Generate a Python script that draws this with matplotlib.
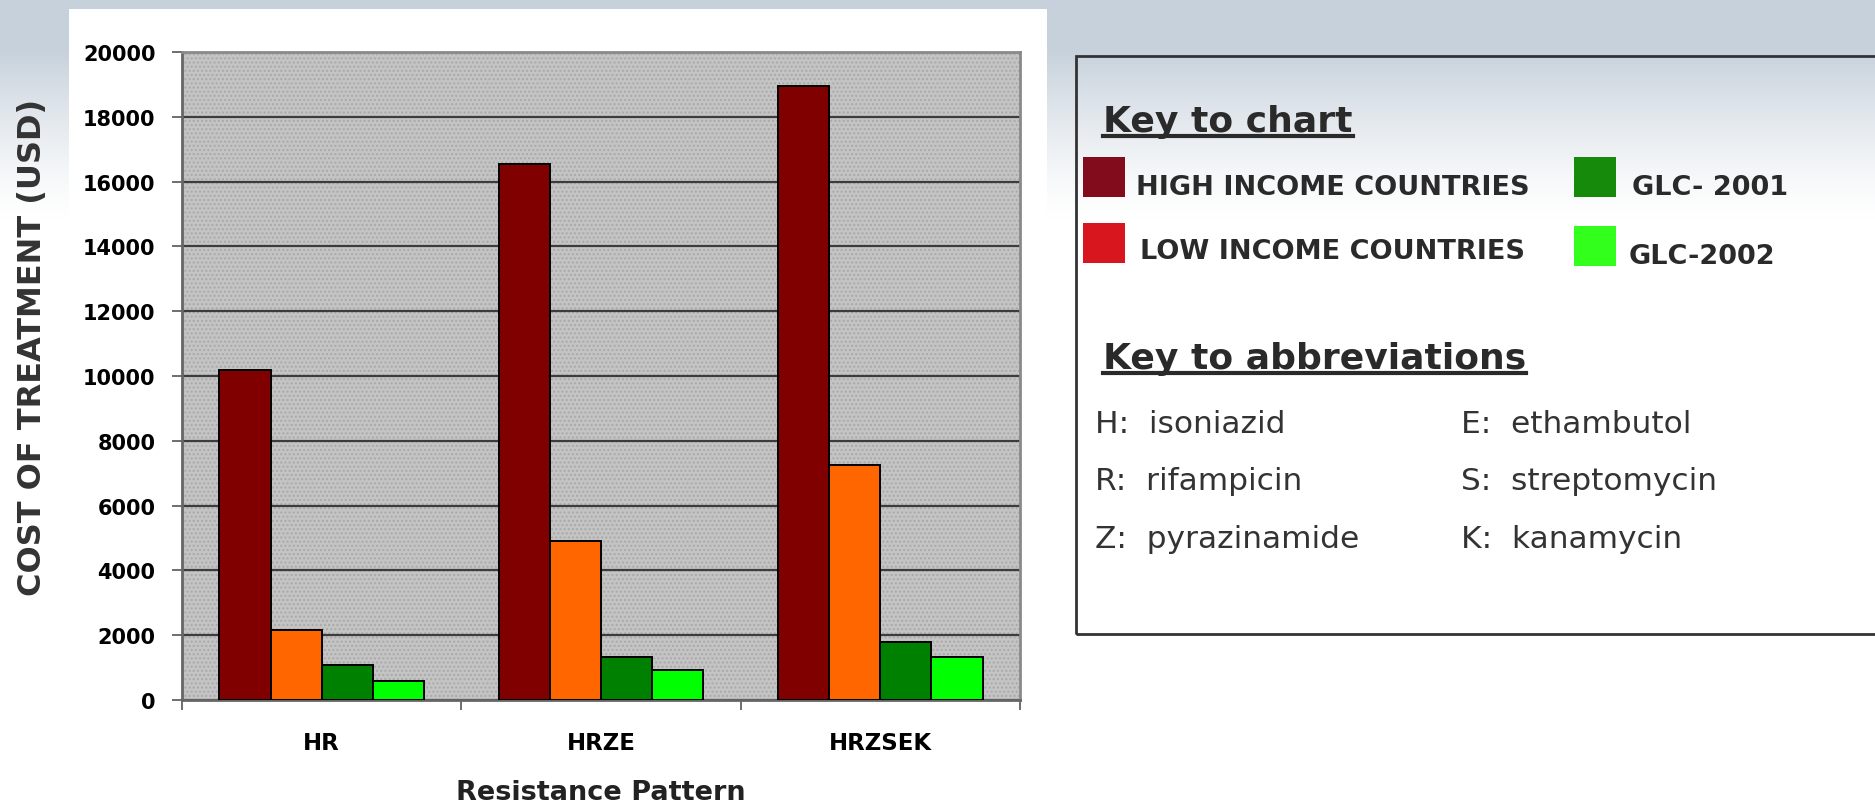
import numpy as np
import matplotlib.pyplot as plt
from matplotlib.patches import Rectangle

categories = ['HR', 'HRZE', 'HRZSEK']
high_income = [10200, 16550, 18950]
low_income = [2150, 4900, 7250]
glc_2001 = [1080, 1320, 1780]
glc_2002 = [580, 940, 1320]

series_names = ['HIGH INCOME COUNTRIES', 'LOW INCOME COUNTRIES', 'GLC- 2001', 'GLC-2002']
bar_colors = ['#800000', '#ff6600', '#008000', '#00ff00']
key_colors = ['#820c1c', '#d8161e', '#168a0a', '#33ff1c']

abbrev_left = ['H:  isoniazid', 'R:  rifampicin', 'Z:  pyrazinamide']
abbrev_right = ['E:  ethambutol', 'S:  streptomycin', 'K:  kanamycin']

fig = plt.figure(figsize=(18.75, 8.04), dpi=100)

# slide background: pale blue-grey band at the top fading to white
bg = fig.add_axes([0, 0, 1, 1], zorder=-10)
H, W = 804, 1875
yy = np.arange(H)[:, None] * np.ones((1, W))
w = np.clip((220 - yy) / 170.0, 0, 1) ** 1.3
top = np.array([0.78, 0.82, 0.86])
img = 1 - w[..., None] * (1 - top)
bg.imshow(img, aspect='auto', extent=[0, 1, 0, 1])
bg.set_xlim(0, 1)
bg.set_ylim(0, 1)
bg.axis('off')

# white chart panel
bg.add_patch(Rectangle((69 / W, 0), 978 / W, 1 - 10 / H, facecolor='white', edgecolor='none'))

ax = fig.add_axes([182 / W, 1 - 701 / H, 838 / W, 648 / H])
ax.set_facecolor('#c4c4c4')
ax.add_patch(Rectangle((-0.5, 0), 3, 20000, facecolor='none', edgecolor='#a9a9a9',
                       hatch='....', linewidth=0, zorder=0))

x = np.arange(len(categories))
bw = 0.183
all_series = [high_income, low_income, glc_2001, glc_2002]
for i, vals in enumerate(all_series):
    ax.bar(x + (i - 1.5) * bw, vals, width=bw, color=bar_colors[i],
           edgecolor='black', linewidth=1.4, zorder=3)

ax.set_xlim(-0.5, 2.5)
ax.set_ylim(0, 20000)
ax.set_yticks(np.arange(0, 20001, 2000))
ax.set_yticklabels([str(v) for v in range(0, 20001, 2000)], fontsize=15, fontweight='bold')
ax.yaxis.grid(True, color='#3c3c3c', linewidth=1.6, zorder=1)
ax.set_axisbelow(True)
ax.set_xticks(x)
ax.set_xticklabels(categories, fontsize=16.5, fontweight='bold')
ax.set_xticks([-0.5, 0.5, 1.5, 2.5], minor=True)
ax.tick_params(axis='x', which='major', length=0, pad=22)
ax.tick_params(axis='x', which='minor', length=7, width=1.2, color='#555555')
ax.tick_params(axis='y', length=7, width=1.2, color='#555555', pad=12)
for s in ax.spines.values():
    s.set_color('#8a8a8a')
    s.set_linewidth(2)
ax.spines['left'].set_color('#666666')
ax.spines['bottom'].set_color('#666666')
ax.set_xlabel('Resistance Pattern', fontsize=19.5, fontweight='bold', labelpad=18, color='#222222')

fig.text(33 / W, 1 - 347 / H, 'COST OF TREATMENT (USD)', rotation=90, ha='center', va='center',
         fontsize=23, fontweight='bold', color='#333333')

# key box
bg.add_patch(Rectangle((1076 / W, 1 - 635 / H), 820 / W, 578 / H, facecolor='none',
                       edgecolor='#333333', linewidth=2))

def ftext(px, py, s, **kw):
    return fig.text(px / W, 1 - py / H, s, **kw)

t1 = ftext(1103, 132, 'Key to chart', fontsize=26, fontweight='bold', color='#2a2a2a', va='baseline')
t2 = ftext(1103, 369, 'Key to abbreviations', fontsize=26, fontweight='bold', color='#2a2a2a', va='baseline')
fig.canvas.draw()
for t, uy in ((t1, 137), (t2, 374)):
    bb = t.get_window_extent()
    bg.plot([bb.x0 / W, bb.x1 / W], [1 - uy / H] * 2, color='#2a2a2a', linewidth=3)

key_pos = [(1083, 158, 1136, 195), (1083, 224, 1140, 259), (1574, 158, 1632, 195), (1574, 227, 1629, 264)]
for (sx, sy, tx, ty), name, c in zip(key_pos, series_names, key_colors):
    bg.add_patch(Rectangle((sx / W, 1 - (sy + 40) / H), 42 / W, 40 / H, facecolor=c, edgecolor='none'))
    ftext(tx, ty, name, fontsize=19.5, fontweight='bold', color='#2a2a2a', va='baseline')

for j, (a, b) in enumerate(zip(abbrev_left, abbrev_right)):
    yb = 433 + j * 57.5
    ftext(1095, yb, a, fontsize=22.5, color='#333333', va='baseline')
    ftext(1461, yb, b, fontsize=22.5, color='#333333', va='baseline')

fig.savefig('out.png', dpi=100)
